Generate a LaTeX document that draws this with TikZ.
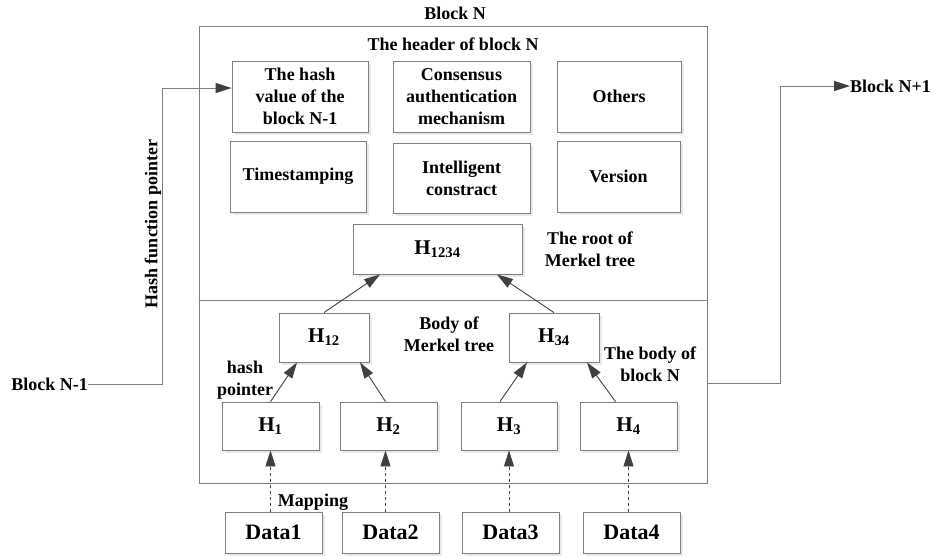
\documentclass[tikz,border=0pt]{standalone}
\usepackage{fontspec}
\setmainfont{Liberation Serif}
\usepackage{tikz}
\usetikzlibrary{positioning,arrows.meta,shadows}
\definecolor{BoxGray}{HTML}{7F7F7F}
\definecolor{ArrowGray}{HTML}{404040}
\tikzset{
  fieldbox/.style={draw=BoxGray,fill=white,line width=0.9pt,align=center,
    font=\fontsize{18}{22}\selectfont\bfseries,inner sep=2pt,
    drop shadow={shadow xshift=2.5pt,shadow yshift=-2.5pt,opacity=0.18}},
  hashbox/.style={fieldbox,font=\fontsize{21}{24}\selectfont\bfseries},
  databox/.style={fieldbox,font=\fontsize{22}{24}\selectfont\bfseries},
  lbl/.style={font=\fontsize{18}{22}\selectfont\bfseries,align=center,inner sep=0pt},
  ptr/.style={draw=ArrowGray,line width=0.9pt,-{Triangle[length=16pt,width=10pt,color=ArrowGray]}},
  mapptr/.style={ptr,dashed},
  link/.style={draw=BoxGray,line width=1pt},
}
\begin{document}
\begin{tikzpicture}[x=1pt,y=-1pt]
  \useasboundingbox (0,0) rectangle (933,555);
  % block N frame
  \node[draw=BoxGray,line width=1pt,minimum width=508pt,minimum height=457pt,inner sep=0pt] (blockn) at (453,254.5) {};
  \draw[link] (blockn.west |- 0,300) -- (blockn.east |- 0,300);
  \node[lbl] (blocknlbl) at (455,13) {Block N};
  \node[lbl] (headerlbl) at (453,44) {The header of block N};
  % header fields
  \node[fieldbox,minimum width=136pt,minimum height=71pt] (hashprev) at (300,96.5) {The hash\\value of the\\block N-1};
  \node[fieldbox,minimum width=137pt,minimum height=71pt] (consensus) at (461.5,96.5) {Consensus\\authentication\\mechanism};
  \node[fieldbox,minimum width=124pt,minimum height=71pt] (others) at (619,96.5) {Others};
  \node[fieldbox,minimum width=136pt,minimum height=71pt] (timestamp) at (298,176.5) {Timestamping};
  \node[fieldbox,minimum width=137pt,minimum height=70pt] (contract) at (461.5,178) {Intelligent\\constract};
  \node[fieldbox,minimum width=123pt,minimum height=71pt] (version) at (618.5,176.5) {Version};
  % merkel tree
  \node[hashbox,minimum width=169pt,minimum height=50pt] (h1234) at (437.5,249) {H\textsubscript{1234}};
  \node[lbl] (rootlbl) at (590,249) {The root of\\Merkel tree};
  \node[hashbox,minimum width=90pt,minimum height=49pt] (h12) at (324,337.5) {H\textsubscript{12}};
  \node[hashbox,minimum width=90pt,minimum height=49pt] (h34) at (554,337.5) {H\textsubscript{34}};
  \node[lbl] (bodylbl) at (449,334) {Body of\\Merkel tree};
  \node[lbl] (blockbodylbl) at (650,364) {The body of\\block N};
  \node[hashbox,minimum width=97pt,minimum height=48pt] (h1) at (270.5,426) {H\textsubscript{1}};
  \node[hashbox,minimum width=97pt,minimum height=48pt] (h2) at (388.5,426) {H\textsubscript{2}};
  \node[hashbox,minimum width=96pt,minimum height=48pt] (h3) at (509,426) {H\textsubscript{3}};
  \node[hashbox,minimum width=97pt,minimum height=48pt] (h4) at (628.5,426) {H\textsubscript{4}};
  \node[lbl] (ptrlbl) at (245,380) {hash\\pointer};
  % data
  \node[databox,minimum width=97pt,minimum height=41pt] (d1) at (273.5,532.5) {Data1};
  \node[databox,minimum width=97pt,minimum height=41pt] (d2) at (390.5,532.5) {Data2};
  \node[databox,minimum width=97pt,minimum height=41pt] (d3) at (510.5,532.5) {Data3};
  \node[databox,minimum width=97pt,minimum height=41pt] (d4) at (631.5,532.5) {Data4};
  \node[lbl] (maplbl) at (313,502) {Mapping};
  % chain
  \node[lbl,anchor=east] (bprev) at (88,384) {Block N-1};
  \node[lbl,anchor=west] (bnext) at (850,86) {Block N+1};
  \node[lbl,rotate=90] (hfplbl) at (153,224) {Hash function pointer};
  \draw[ptr,draw=BoxGray] (bprev.east) -- ++(74,0) |- ([yshift=8.5pt]hashprev.west);
  \draw[ptr,draw=BoxGray] (blockn.east |- 0,383) -- (780,383) |- (bnext.west);
  % hash pointers
  \draw[ptr] (h1.north) -- ([xshift=-27pt]h12.south);
  \draw[ptr] ([xshift=-3pt]h2.north) -- ([xshift=36pt]h12.south);
  \draw[ptr] ([xshift=-9pt]h3.north) -- ([xshift=-27pt]h34.south);
  \draw[ptr] ([xshift=-13pt]h4.north) -- ([xshift=33pt]h34.south);
  \draw[ptr] (h12.north) -- ([xshift=-57.5pt]h1234.south);
  \draw[ptr] (h34.north) -- ([xshift=59.5pt]h1234.south);
  \draw[mapptr] (h1.south |- d1.north) -- (h1.south);
  \draw[mapptr] ([xshift=-3pt]h2.south |- d2.north) -- ([xshift=-3pt]h2.south);
  \draw[mapptr] (h3.south |- d3.north) -- (h3.south);
  \draw[mapptr] (h4.south |- d4.north) -- (h4.south);
\end{tikzpicture}
\end{document}
